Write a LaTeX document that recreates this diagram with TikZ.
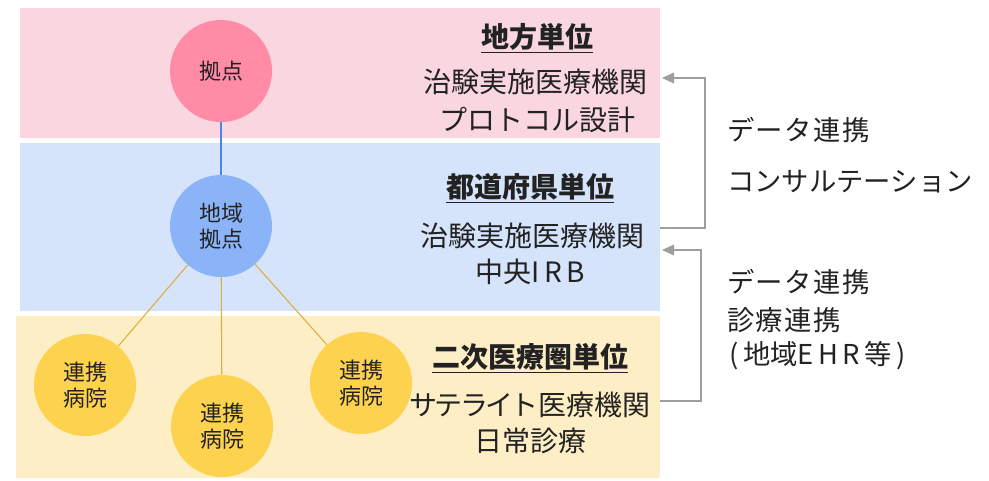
\documentclass[tikz,border=0pt]{standalone}
\usepackage{fontspec}
\setmainfont{Noto Sans CJK JP}
\usetikzlibrary{arrows.meta}
\definecolor{pinkband}{HTML}{F9D6E0}
\definecolor{pinkcirc}{HTML}{FF8BA7}
\definecolor{blueband}{HTML}{D5E3FB}
\definecolor{bluecirc}{HTML}{8AB4F7}
\definecolor{yelband}{HTML}{FDEEC6}
\definecolor{yelcirc}{HTML}{FDD24E}
\definecolor{blueline}{HTML}{4A86E8}
\definecolor{goldline}{HTML}{DDAE3C}
\definecolor{arrgray}{HTML}{9E9E9E}
\definecolor{txt}{HTML}{222222}
\begin{document}
\begin{tikzpicture}[x=0.75pt,y=-0.75pt,
  circ/.style={circle,fill=#1,draw=none,minimum size=76.5pt,inner sep=0pt,align=center,
     font=\fontsize{16.5}{20}\selectfont,text=txt},
  lvltitle/.style={font=\fontsize{21}{25}\selectfont\bfseries,text=txt,inner sep=0pt},
  lvltext/.style={font=\fontsize{21}{25}\selectfont,text=txt,inner sep=0pt},
  sidetext/.style={font=\fontsize{20.5}{25}\selectfont,text=txt,inner sep=0pt,anchor=west},
  conn/.style={draw=arrgray,line width=0.9pt,-{Triangle[length=9pt,width=8pt]}},
]
\useasboundingbox (0,0) rectangle (989,480);
% bands
\fill[pinkband] (20,8) rectangle (660,138);
\fill[blueband] (20,143) rectangle (660,311);
\fill[yelband] (16,316) rectangle (660,478);
% circles
\node[circ=pinkcirc] (k) at (221,71) {拠点};
\node[circ=bluecirc] (c) at (221,226) {地域\\拠点};
\node[circ=yelcirc] (h1) at (85,385) {連携\\病院};
\node[circ=yelcirc] (h2) at (222,426) {連携\\病院};
\node[circ=yelcirc] (h3) at (361,383) {連携\\病院};
% connectors
\draw[blueline,line width=0.8pt] (k) -- (c);
\draw[goldline,line width=0.8pt] (c) -- (h1);
\draw[goldline,line width=0.8pt] (c) -- (h2);
\draw[goldline,line width=0.8pt] (c) -- (h3);
% level texts
\node[lvltitle] (t1) at (537,38) {\underline{地方単位}};
\node[lvltext] (a1) at (535,82) {治験実施医療機関};
\node[lvltext] (b1) at (537,120) {プロトコル設計};
\node[lvltitle] (t2) at (530,188) {\underline{都道府県単位}};
\node[lvltext] (a2) at (532,236) {治験実施医療機関};
\node[lvltext] (b2) at (530,272) {中央I\,R\,B};
\node[lvltitle] (t3) at (530,358) {\underline{二次医療圏単位}};
\node[lvltext] (a3) at (530,405) {{\addfontfeature{LetterSpace=-10}サテライト}医療機関};
\node[lvltext] (b3) at (530,441) {日常診療};
% side connectors
\coordinate (u0) at (660,228);
\coordinate (u1) at (705,228);
\coordinate (u2) at (705,78);
\coordinate (u3) at (662,78);
\draw[conn] (u0) -- (u1) -- (u2) -- (u3);
\coordinate (l0) at (660,401);
\coordinate (l1) at (701,401);
\coordinate (l2) at (701,250);
\coordinate (l3) at (662,250);
\draw[conn] (l0) -- (l1) -- (l2) -- (l3);
% side texts
\node[sidetext] (s1) at (727,130) {{\addfontfeature{LetterSpace=5}データ連携}};
\node[sidetext] (s2) at (727,182) {コンサルテーション};
\node[sidetext] (s3) at (727,282) {{\addfontfeature{LetterSpace=5}データ連携}};
\node[sidetext] (s4) at (727,320) {{\addfontfeature{LetterSpace=5}診療連携}};
\node[sidetext] (s5) at (729,356) {(\,地域E\,H\,R\,等\,)};
\end{tikzpicture}
\end{document}
